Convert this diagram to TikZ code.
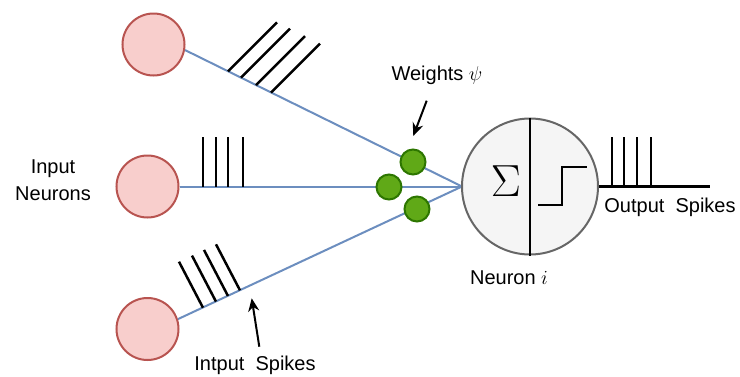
\RequirePackage{fix-cm}
\documentclass[tikz,border=0pt]{standalone}
\usepackage{fontspec}
\setmainfont{Liberation Sans}
\usetikzlibrary{arrows.meta,calc}
\definecolor{inred}{HTML}{F8CECC}
\definecolor{inredline}{HTML}{B85450}
\definecolor{wgreen}{HTML}{60A917}
\definecolor{wgreenline}{HTML}{2D7600}
\definecolor{synblue}{HTML}{6C8EBF}
\definecolor{nfill}{HTML}{F5F5F5}
\definecolor{nline}{HTML}{666666}
\tikzset{
  inneuron/.style={circle,draw=inredline,fill=inred,line width=2pt,minimum size=62pt,inner sep=0pt},
  weight/.style={circle,draw=wgreenline,fill=wgreen,line width=2pt,minimum size=25pt,inner sep=0pt},
  synapse/.style={draw=synblue,line width=2pt},
  spike/.style={draw=black,line width=2.5pt},
  pointer/.style={draw=black,line width=2pt,-{Stealth[length=13pt,width=11pt]}},
  lbl/.style={font=\fontsize{20}{27}\selectfont,inner sep=0pt,align=center},
  neuron/.style={circle,draw=nline,fill=nfill,line width=2pt,minimum size=136pt,inner sep=0pt}
}
\begin{document}
\begin{tikzpicture}[x=1pt,y=-1pt]
\useasboundingbox (0,0) rectangle (740,376);
% input neurons
\node[inneuron] (in1) at (153.5,44.5) {};
\node[inneuron] (in2) at (147.5,186.5) {};
\node[inneuron] (in3) at (147.5,329) {};
\coordinate (conv) at (462,186.5);
% synapses
\draw[synapse] (in1.-10) -- (conv);
\draw[synapse] (in2.east) -- (conv);
\draw[synapse] (in3.18) -- (conv);
% top input spikes
\foreach \x in {228,241,256,271}{
  \draw[spike] (\x,{50+0.4946*(\x-185)}) -- ++(49,-49);
}
% middle input spikes
\foreach \x in {203,216,228,243}{
  \draw[spike] (\x,186.5) -- (\x,137);
}
% bottom input spikes
\foreach \x in {203,216,228,240}{
  \draw[spike] (\x,{319-0.47*(\x-179)}) -- ++(-24,-46);
}
% weights
\node[weight] (w1) at (413,162) {};
\node[weight] (w2) at (389,187) {};
\node[weight] (w3) at (417,209) {};
% neuron
\node[neuron] (n) at (530,186.5) {};
\draw[black,line width=2pt] (n.north) -- (n.south);
\node[inner sep=0pt,font=\fontsize{45}{50}\selectfont] (sig) at (506,181) {$\Sigma$};
\draw[black,line width=2.5pt] (538,205) -- (562,205) -- (562,167) -- (587,167);
% output
\coordinate (outend) at (710,186.5);
\draw[spike,line width=2.2pt] (n.east) -- (outend);
\foreach \x in {612,624,637,651}{
  \draw[spike] (\x,186.5) -- (\x,137);
}
% labels
\node[lbl] (lw) at (437,75) {Weights $\psi$};
\coordinate (wtail) at (426.7,100.7);
\coordinate (wtip) at (413.3,136);
\draw[pointer] (wtail) -- (wtip);
\node[lbl] (ln) at (509,278) {Neuron $i$};
\node[lbl] (lo) at (670,207) {Output\ \ Spikes};
\node[lbl] (li) at (255,365) {Intput\ \ Spikes};
\coordinate (itail) at (259.3,346.7);
\coordinate (itip) at (251.7,298.3);
\draw[pointer] (itail) -- (itip);
\node[lbl] (lin) at (53,180) {Input\\Neurons};
\end{tikzpicture}
\end{document}
